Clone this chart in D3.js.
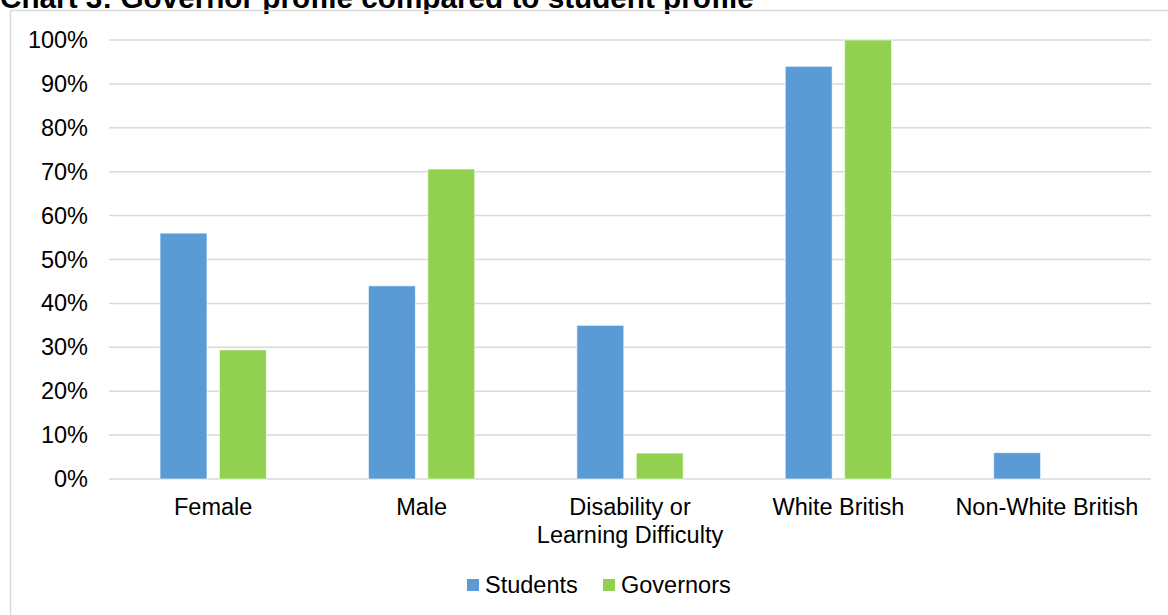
<!DOCTYPE html>
<html>
<head>
<meta charset="utf-8">
<script src="https://cdn.jsdelivr.net/npm/d3@7"></script>
<style>
  body { margin: 0; background: #fff; }
  svg { display: block; font-family: Arial, "Liberation Sans", sans-serif; }
</style>
</head>
<body>
<div id="chart"></div>
<script>
var categories = ["Female", "Male", "Disability or\nLearning Difficulty", "White British", "Non-White British"];
var seriesNames = ["Students", "Governors"];
var students = [56, 44, 35, 94, 6];
var governors = [29.4, 70.6, 5.9, 100, 0];
var yTicks = [0, 10, 20, 30, 40, 50, 60, 70, 80, 90, 100];
var colors = ["#5b9bd5", "#92d050"];

var width = 1168, height = 615;
var margin = {top: 40, right: 17, bottom: 136, left: 109};
var plotW = width - margin.left - margin.right,
    plotH = height - margin.top - margin.bottom;
var fontSize = 23.5;

var svg = d3.select("#chart").append("svg")
    .attr("width", width)
    .attr("height", height);

// title, clipped at the top like the original screenshot
svg.append("text")
    .attr("x", 0)
    .attr("y", 8)
    .attr("font-size", 29.7)
    .attr("font-weight", "bold")
    .attr("fill", "#000")
    .text("Chart 3: Governor profile compared to student profile");

// chart area border
svg.append("rect")
    .attr("x", 10.5).attr("y", 10.5)
    .attr("width", 1200).attr("height", 700)
    .attr("fill", "none")
    .attr("stroke", "#d9d9d9")
    .attr("stroke-width", 1.5);

var g = svg.append("g")
    .attr("transform", "translate(" + margin.left + "," + margin.top + ")");

var x0 = d3.scaleBand().domain(d3.range(categories.length)).range([0, plotW]);
var x1 = d3.scaleBand().domain(seriesNames).range([0, x0.bandwidth()])
    .paddingInner(0.21).paddingOuter(0.86);
var y = d3.scaleLinear().domain([0, 100]).range([plotH, 0]);

// gridlines
g.append("g")
    .selectAll("line")
    .data(yTicks)
    .enter().append("line")
      .attr("x1", 0).attr("x2", plotW)
      .attr("y1", function(d){ return y(d); })
      .attr("y2", function(d){ return y(d); })
      .attr("stroke", "#d9d9d9")
      .attr("stroke-width", 1.5);

// y axis labels
var yAxis = g.append("g")
    .call(d3.axisLeft(y).tickValues(yTicks).tickSize(0).tickPadding(21)
      .tickFormat(function(d){ return d + "%"; }));
yAxis.select(".domain").remove();
yAxis.selectAll("text")
    .attr("font-size", fontSize)
    .attr("font-family", "Arial, 'Liberation Sans', sans-serif")
    .attr("fill", "#000");

// bars
var data = [students, governors];
var groups = g.selectAll(".cat")
    .data(categories)
    .enter().append("g")
      .attr("class", "cat")
      .attr("transform", function(d, i){ return "translate(" + x0(i) + ",0)"; });

groups.selectAll("rect")
    .data(function(d, i){ return seriesNames.map(function(s, j){ return {s: s, v: data[j][i], j: j}; }); })
    .enter().append("rect")
      .filter(function(d){ return d.v > 0; })
      .attr("x", function(d){ return x1(d.s); })
      .attr("y", function(d){ return y(d.v); })
      .attr("width", x1.bandwidth())
      .attr("height", function(d){ return plotH - y(d.v); })
      .attr("fill", function(d){ return colors[d.j]; })
      .attr("stroke", "#ffffff")
      .attr("stroke-opacity", 0.6)
      .attr("stroke-width", 1);

// category labels
var xl = g.append("g").selectAll("text")
    .data(categories)
    .enter().append("text")
      .attr("x", function(d, i){ return x0(i) + x0.bandwidth() / 2; })
      .attr("y", plotH + 36)
      .attr("text-anchor", "middle")
      .attr("font-size", fontSize)
      .attr("fill", "#000");
xl.each(function(d){
  var t = d3.select(this);
  d.split("\n").forEach(function(line, k){
    t.append("tspan")
      .attr("x", t.attr("x"))
      .attr("dy", k === 0 ? 0 : 28)
      .text(line);
  });
});

// legend
var legend = svg.append("g").attr("transform", "translate(467,579)");
var legendX = [0, 136];
seriesNames.forEach(function(s, i){
  var lg = legend.append("g").attr("transform", "translate(" + legendX[i] + ",0)");
  lg.append("rect").attr("width", 12).attr("height", 12).attr("fill", colors[i]);
  lg.append("text").attr("x", 18).attr("y", 14)
    .attr("font-size", fontSize).attr("fill", "#000").text(s);
});
</script>
</body>
</html>
